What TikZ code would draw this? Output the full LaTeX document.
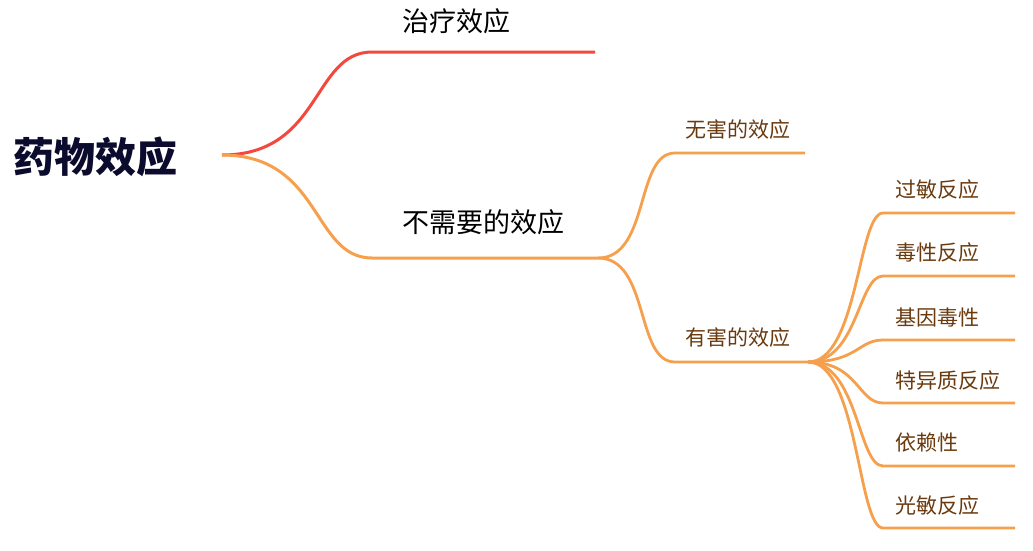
\documentclass[tikz,border=0pt]{standalone}
\usepackage{fontspec}
\newfontfamily\cjk{Noto Sans CJK SC}
\usetikzlibrary{positioning}

\definecolor{rootink}{HTML}{0B0B2E}
\definecolor{redbranch}{HTML}{F4473D}
\definecolor{orangebranch}{HTML}{F6A04D}
\definecolor{leafink}{HTML}{6A3A0E}

\begin{document}
\begin{tikzpicture}[x=1pt,y=-1pt,
    rootlabel/.style={font=\cjk\bfseries\fontsize{41}{46}\selectfont, text=rootink, inner sep=0pt},
    midlabel/.style={font=\cjk\fontsize{27}{30}\selectfont, text=black, anchor=west, inner sep=0pt},
    leaflabel/.style={font=\cjk\fontsize{21}{24}\selectfont, text=leafink, anchor=west, inner sep=0pt},
    branch/.style={line width=3pt},
    twig/.style={line width=2.8pt, orangebranch}]
  % Canvas in pixels of the 1033x550 mind map, y grows downwards.
  \fill[white] (0,0) rectangle (1033,550);
  \useasboundingbox (0,0) rectangle (1033,550);

  % Central topic.
  \node[rootlabel] (root) at (95,157) {药物效应};
  \coordinate (hub0) at (222,155);

  % First level: two branches.
  \coordinate (treat-l) at (372,52);
  \coordinate (treat-r) at (595,52);
  \node[midlabel] (treat) at (402,21) {治疗效应};
  \coordinate (unneed-l) at (372,258);
  \coordinate (unneed-r) at (598,258);
  \node[midlabel] (unneed) at (402,222) {不需要的效应};

  \draw[branch, redbranch] (hub0) .. controls +(100,0) and +(-60,0) .. (treat-l) -- (treat-r);
  \draw[branch, orangebranch] (hub0) .. controls +(100,0) and +(-60,0) .. (unneed-l) -- (unneed-r);

  % Second level under the unwanted effects.
  \coordinate (harmless-l) at (675,153);
  \coordinate (harmless-r) at (805,153);
  \node[leaflabel] (harmless) at (685,130) {无害的效应};
  \coordinate (harmful-l) at (675,362);
  \coordinate (harmful-r) at (808,362);
  \node[leaflabel] (harmful) at (685,338) {有害的效应};

  \draw[twig] (unneed-r) .. controls +(52,0) and +(-40,0) .. (harmless-l) -- (harmless-r);
  \draw[twig] (unneed-r) .. controls +(52,0) and +(-40,0) .. (harmful-l) -- (harmful-r);

  % Third level: kinds of harmful effects.
  \foreach \i/\y/\txt in {1/213/过敏反应,2/276/毒性反应,3/340/基因毒性,
                          4/403/特异质反应,5/466/依赖性,6/528/光敏反应} {
    \coordinate (leaf\i-l) at (883,\y);
    \coordinate (leaf\i-r) at (1015,\y);
    \node[leaflabel] (leaf\i) at (895,\y-23) {\txt};
    \draw[twig] (harmful-r) .. controls +(50,0) and +(-25,0) .. (leaf\i-l) -- (leaf\i-r);
  }
\end{tikzpicture}
\end{document}
